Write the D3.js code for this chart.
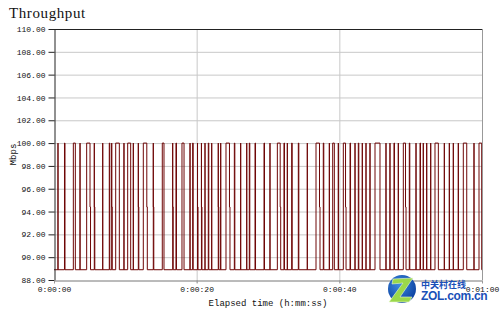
<!DOCTYPE html>
<html><head><meta charset="utf-8">
<script src="https://cdn.jsdelivr.net/npm/d3@7/dist/d3.min.js"></script>
<style>
html,body{margin:0;padding:0;background:#fff;}
svg{display:block;}
</style></head>
<body>
<svg id="chart" width="500" height="315"></svg>
<script>
// ---- data ----
const title = "Throughput";
const yLabel = "Mbps";
const xLabel = "Elapsed time (h:mm:ss)";
const yTicks = [88, 90, 92, 94, 96, 98, 100, 102, 104, 106, 108, 110];
const xTicks = [0, 20, 40, 60];
const xTickLabels = ["0:00:00", "0:00:20", "0:00:40", "0:01:00"];
const lowLevel = 88.9;    // Mbps, resting level
const highLevel = 100.0;  // Mbps, peak level
const midLevel = 94.4;    // Mbps, intermediate step
// pulses: [rise time (s), fall time (s), end of step at midLevel (s) or null]
const pulses = [
  [0.56, 0.56, null], [1.47, 1.54, null], [2.71, 2.99, null], [3.65, 3.65, null],
  [4.58, 5.05, 5.12], [5.65, 5.65, 5.72], [6.83, 6.83, null], [7.75, 7.82, null],
  [8.09, 8.09, 8.16], [8.65, 9.16, null], [9.81, 9.81, null], [10.33, 10.75, null],
  [11.12, 11.12, null], [11.82, 11.82, 11.89], [12.52, 13.01, 13.08], [13.92, 13.92, 13.99],
  [15.18, 15.42, null], [16.64, 16.64, 16.71], [17.10, 17.17, null], [17.94, 18.23, null],
  [19.07, 19.07, null], [19.44, 19.51, null], [20.12, 20.12, 20.19], [20.67, 20.67, 20.74],
  [21.17, 21.17, null], [21.63, 21.70, null], [22.11, 22.11, null], [23.03, 23.03, 23.10],
  [23.37, 23.37, null], [24.11, 24.60, 24.67], [25.28, 25.35, null], [26.17, 26.17, null],
  [27.02, 27.02, null], [27.38, 27.45, null], [28.18, 28.25, null], [29.44, 29.51, null],
  [30.28, 30.28, null], [31.31, 31.71, 31.78], [32.24, 32.31, null], [32.71, 32.71, null],
  [33.32, 33.39, null], [34.25, 34.32, null], [35.51, 35.51, null], [36.73, 37.22, 37.29],
  [37.75, 37.82, null], [38.60, 38.60, null], [39.07, 39.30, null], [39.86, 39.86, null],
  [40.56, 40.87, 40.94], [41.50, 41.57, null], [42.20, 42.20, null], [42.66, 42.73, null],
  [43.22, 43.22, null], [43.74, 43.74, null], [44.30, 44.30, null], [45.00, 45.70, null],
  [46.54, 46.54, null], [47.10, 47.10, null], [47.66, 47.73, null], [48.27, 48.27, null],
  [48.97, 49.28, 49.35], [49.81, 49.88, null], [50.75, 50.75, null], [51.31, 51.38, null],
  [51.77, 51.77, null], [52.25, 52.25, null], [52.81, 52.81, null], [53.41, 53.88, null],
  [54.72, 54.72, null], [55.42, 55.42, null], [55.98, 55.98, null], [56.68, 56.68, null],
  [57.38, 57.86, null], [58.88, 58.88, null], [59.58, 59.96, null]
];

// ---- build the series ----
const series = [[0, lowLevel]];
pulses.forEach(([r, f, m]) => {
  series.push([r, lowLevel], [r, highLevel], [f, highLevel]);
  if (m !== null) { series.push([f, midLevel], [m, midLevel], [m, lowLevel]); }
  else { series.push([f, lowLevel]); }
});
series.push([60, lowLevel]);

// ---- drawing ----
const svg = d3.select("#chart");
const x = d3.scaleLinear().domain([0, 60]).range([54, 482]);
const y = d3.scaleLinear().domain([88, 110]).range([280, 29]);

// gridlines
const grid = svg.append("g");
grid.selectAll("line.h").data(yTicks.filter(d => d > 88 && d < 110)).join("line")
  .attr("x1", x(0)).attr("x2", x(60)).attr("y1", d => y(d) + 0.5).attr("y2", d => y(d) + 0.5)
  .attr("stroke", "#c8c8c8").attr("stroke-width", 1);
grid.selectAll("line.v").data(xTicks.filter(d => d > 0 && d < 60)).join("line")
  .attr("x1", d => x(d) + 0.5).attr("x2", d => x(d) + 0.5).attr("y1", y(110)).attr("y2", y(88) + 3)
  .attr("stroke", "#c8c8c8").attr("stroke-width", 1);

// series line
svg.append("path").datum(series)
  .attr("fill", "none").attr("stroke", "#6e0606").attr("stroke-width", 1)
  .attr("d", d3.line().x(d => x(d[0])).y(d => y(d[1])));

// frame
svg.append("line").attr("x1", x(0)).attr("x2", x(60)).attr("y1", y(110) + 0.5).attr("y2", y(110) + 0.5)
  .attr("stroke", "#222");
svg.append("line").attr("x1", x(60) + 0.5).attr("x2", x(60) + 0.5).attr("y1", y(110)).attr("y2", y(88))
  .attr("stroke", "#999");

// axes
const yAxis = svg.append("g").attr("transform", `translate(${x(0) + 0.5},0)`)
  .call(d3.axisLeft(y).tickValues(yTicks).tickFormat(d3.format(".2f")).tickSize(6).tickSizeOuter(0).tickPadding(3));
yAxis.select(".domain").attr("stroke", "#222");
yAxis.selectAll(".tick line").attr("stroke", "#222");
yAxis.selectAll("text").attr("font-family", "Liberation Mono, DejaVu Sans Mono, monospace")
  .attr("font-size", 8).attr("fill", "#111");

const xAxis = svg.append("g").attr("transform", `translate(0,${y(88) + 0.5})`)
  .call(d3.axisBottom(x).tickValues(xTicks).tickFormat((d, i) => xTickLabels[i]).tickSize(3).tickSizeOuter(0).tickPadding(3));
xAxis.select(".domain").attr("stroke", "#777");
xAxis.selectAll(".tick line").attr("stroke", "#999");
xAxis.selectAll("text").attr("font-family", "Liberation Mono, DejaVu Sans Mono, monospace")
  .attr("font-size", 8).attr("fill", "#111");

// title and axis labels
svg.append("text").attr("x", 9).attr("y", 18).text(title)
  .attr("font-family", "Liberation Serif, DejaVu Serif, serif").attr("font-size", 15)
  .attr("letter-spacing", 0.6).attr("fill", "#111");
svg.append("text").attr("x", (x(0) + x(60)) / 2).attr("y", 306).attr("text-anchor", "middle").text(xLabel)
  .attr("font-family", "Liberation Mono, DejaVu Sans Mono, monospace").attr("font-size", 9).attr("fill", "#111");
svg.append("text").attr("transform", `translate(16,${(y(88) + y(110)) / 2}) rotate(-90)`)
  .attr("text-anchor", "middle").text(yLabel)
  .attr("font-family", "Liberation Mono, DejaVu Sans Mono, monospace").attr("font-size", 9).attr("fill", "#111");

// watermark (overlaps the last tick label, as in the reference)
const wm = svg.append("g");
const defs = svg.append("defs");
const grad = defs.append("radialGradient").attr("id", "gl").attr("cx", "40%").attr("cy", "35%").attr("r", "70%");
grad.append("stop").attr("offset", "0%").attr("stop-color", "#3c8ae0");
grad.append("stop").attr("offset", "100%").attr("stop-color", "#0b3f9e");
wm.append("ellipse").attr("cx", 402).attr("cy", 289).attr("rx", 14).attr("ry", 14).attr("fill", "url(#gl)");
wm.append("path").attr("d", "M393,279 L413,278 L400,297 L412,297 L409,302 L389,302 L403,283 L392,284 Z")
  .attr("fill", "#9ad84a").attr("stroke", "#e8f8d0").attr("stroke-width", 0.6);
wm.append("text").attr("x", 421).attr("y", 288).text("中关村在线")
  .attr("font-family", "Noto Sans CJK SC").attr("font-weight", "bold").attr("font-size", 9).attr("fill", "#1a50b8");
wm.append("text").attr("x", 421).attr("y", 300).text("ZOL.com.cn")
  .attr("font-family", "Liberation Sans, Arial, sans-serif").attr("font-weight", "bold").attr("font-size", 12)
  .attr("letter-spacing", -0.3).attr("fill", "#1a50b8");
</script>
</body></html>
